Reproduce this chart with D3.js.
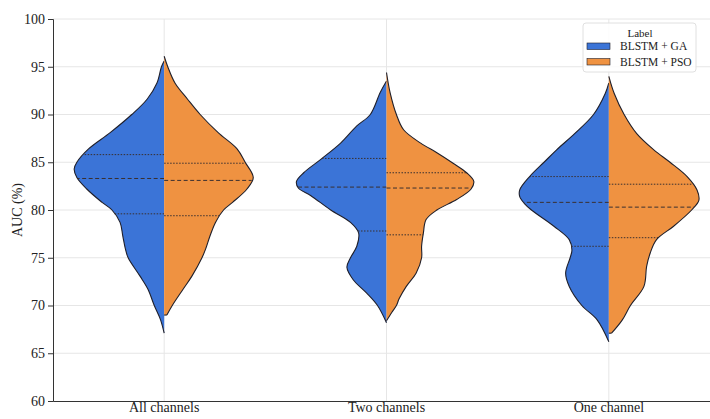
<!DOCTYPE html>
<html>
<head>
<meta charset="utf-8">
<script src="https://cdn.jsdelivr.net/npm/d3@7"></script>
<style>
  html, body { margin: 0; padding: 0; background: #fff; }
  svg { display: block; }
  text { font-family: "Liberation Serif", "Times New Roman", serif; fill: #222; }
</style>
</head>
<body>
<svg id="chart" width="710" height="419"></svg>
<script>
// Categories and series
const categories = ["All channels", "Two channels", "One channel"];
const seriesNames = ["BLSTM + GA", "BLSTM + PSO"];
const yTicks = [60, 65, 70, 75, 80, 85, 90, 95, 100];

// Kernel density profiles (AUC %, relative density) for each group
const gaAll = [[95.6,0],[95,.03],[93.3,.08],[91.6,.19],[90,.36],[88.1,.60],[86.4,.84],[85,.97],[84.3,1.0],[83.4,.97],[82.2,.86],[80.8,.69],[80,.58],[78.7,.49],[77.3,.46],[75.9,.43],[75,.40],[73.1,.27],[71.7,.18],[70,.11],[68.5,.04],[67.1,0]];
const psoAll = [[96.1,0],[95,.04],[93.3,.12],[91.6,.26],[90,.40],[88.1,.60],[86.4,.81],[85,.90],[83.4,.99],[82.2,.92],[80.8,.76],[80,.66],[78.7,.57],[77.3,.51],[75.9,.46],[75,.42],[73.1,.31],[71.7,.21],[70,.09],[69.0,.03]];
const gaTwo = [[93.5,0],[92.3,.07],[90,.18],[88.8,.33],[87,.51],[85.3,.73],[83.9,.92],[83,1.0],[82.3,.98],[81.5,.84],[80,.62],[78.7,.40],[77.6,.31],[76.2,.33],[75,.40],[74,.44],[72.7,.37],[71.3,.22],[70,.10],[68.2,0]];
const psoTwo = [[94.4,0],[92.3,.04],[90,.11],[88.4,.19],[87,.38],[86,.56],[84.9,.74],[83.9,.89],[83,.97],[82.2,.94],[81.1,.78],[80,.56],[79,.44],[77.6,.41],[76.2,.39],[75,.39],[73.4,.33],[72,.22],[70.7,.14],[70,.11],[69.3,.06],[68.4,0]];
const gaOne = [[93.3,0],[92.2,.04],[90,.17],[88,.38],[86.3,.58],[85,.72],[83.5,.88],[82.1,.99],[81.4,.99],[80.7,.94],[80,.86],[78.3,.61],[76.9,.44],[75.8,.41],[75,.43],[73.4,.48],[72,.44],[70,.30],[68.5,.13],[66.2,0]];
const psoOne = [[94.0,0],[92.2,.06],[90,.17],[88,.31],[86.3,.50],[85,.68],[83.5,.87],[82.1,.98],[81,1.0],[80,.92],[78.3,.72],[76.9,.53],[75.5,.46],[74.1,.42],[72,.39],[70,.24],[68.5,.15],[67.1,.03]];

// Quartiles [Q1, median, Q3] per group
const gaQuartiles  = [[79.6, 83.3, 85.8], [77.8, 82.4, 85.4], [76.2, 80.8, 83.5]];
const psoQuartiles = [[79.4, 83.1, 84.9], [77.4, 82.3, 83.9], [77.1, 80.3, 82.7]];

const gaDensity = [gaAll, gaTwo, gaOne];
const psoDensity = [psoAll, psoTwo, psoOne];

const colors = ["#3b74d7", "#ef9241"];
const edgeColor = "#1f1f2a";

const svg = d3.select("#chart");
const margin = { left: 53, top: 19, bottom: 401 };

const y = d3.scaleLinear().domain([60, 100]).range([margin.bottom, margin.top]);
const x = d3.scaleBand().domain(categories).range([margin.left, 720]).padding(0);
const w = d3.scaleLinear().domain([0, 1]).range([0, 90]);

// Grid
const grid = svg.append("g");
grid.selectAll("line.h").data(yTicks.slice(1)).join("line")
  .attr("x1", margin.left).attr("x2", 710)
  .attr("y1", d => y(d)).attr("y2", d => y(d))
  .attr("stroke", "#e6e6e6").attr("stroke-width", 1);
grid.selectAll("line.v").data(categories).join("line")
  .attr("x1", d => x(d) + x.bandwidth() / 2).attr("x2", d => x(d) + x.bandwidth() / 2)
  .attr("y1", margin.top).attr("y2", margin.bottom)
  .attr("stroke", "#e6e6e6").attr("stroke-width", 1);

// Density at a given AUC (linear interpolation within the profile)
function densityAt(profile, v) {
  for (let i = 0; i < profile.length - 1; i++) {
    const a = profile[i], b = profile[i + 1];
    if ((v <= a[0] && v >= b[0])) {
      const t = (a[0] - v) / (a[0] - b[0]);
      return a[1] + t * (b[1] - a[1]);
    }
  }
  return 0;
}

const curve = d3.curveCatmullRom.alpha(0.5);

function drawHalf(g, profile, quart, cx, side, color) {
  const pts = profile.map(d => ({ v: d[0], d: d[1] }));
  const area = d3.area()
    .y(d => y(d.v))
    .x0(cx)
    .x1(d => cx + side * w(d.d))
    .curve(curve);
  g.append("path").datum(pts).attr("d", area).attr("fill", color).attr("stroke", "none");

  // outer edge
  const edge = d3.line().y(d => y(d.v)).x(d => cx + side * w(d.d)).curve(curve);
  g.append("path").datum(pts).attr("d", edge)
    .attr("fill", "none").attr("stroke", edgeColor).attr("stroke-width", 1.1);
  const last = pts[pts.length - 1];
  if (last.d > 0) {
    g.append("line")
      .attr("x1", cx).attr("x2", cx + side * w(last.d))
      .attr("y1", y(last.v)).attr("y2", y(last.v))
      .attr("stroke", edgeColor).attr("stroke-width", 1.1);
  }

  // quartile lines
  quart.forEach((q, i) => {
    const hw = w(densityAt(profile, q));
    g.append("line")
      .attr("x1", cx).attr("x2", cx + side * hw)
      .attr("y1", y(q)).attr("y2", y(q))
      .attr("stroke", "#3a3030")
      .attr("stroke-width", 1)
      .attr("stroke-dasharray", i === 1 ? "4,2.5" : "1.5,1.5");
  });
}

const violins = svg.append("g");
categories.forEach((c, i) => {
  const cx = x(c) + x.bandwidth() / 2;
  drawHalf(violins, gaDensity[i], gaQuartiles[i], cx, -1, colors[0]);
  drawHalf(violins, psoDensity[i], psoQuartiles[i], cx, 1, colors[1]);
});

// Axes
const yAxis = svg.append("g").attr("transform", `translate(${margin.left},0)`)
  .call(d3.axisLeft(y).tickValues(yTicks).tickSize(5).tickPadding(3));
yAxis.select(".domain").attr("stroke", "#333");
yAxis.selectAll(".tick line").attr("stroke", "#333");
yAxis.selectAll("text").attr("font-size", 14).attr("fill", "#222")
  .style("font-family", '"Liberation Serif", serif');

const xAxis = svg.append("g").attr("transform", `translate(0,${margin.bottom})`)
  .call(d3.axisBottom(x).tickSize(0).tickPadding(2));
xAxis.select(".domain").attr("stroke", "#333");
xAxis.selectAll("text").attr("font-size", 14).attr("fill", "#222")
  .attr("dy", "0.62em")
  .style("font-family", '"Liberation Serif", serif');

svg.append("text")
  .attr("transform", `translate(19,${(margin.top + margin.bottom) / 2}) rotate(-90)`)
  .attr("text-anchor", "middle").attr("dominant-baseline", "middle")
  .attr("font-size", 14).text("AUC (%)");

// Legend
const lg = svg.append("g").attr("transform", "translate(583,23)");
lg.append("rect").attr("width", 113).attr("height", 49).attr("rx", 3)
  .attr("fill", "#fff").attr("fill-opacity", 0.85).attr("stroke", "#e0e0e0");
lg.append("text").attr("x", 57).attr("y", 14).attr("text-anchor", "middle")
  .attr("font-size", 11).text("Label");
seriesNames.forEach((s, i) => {
  const row = lg.append("g").attr("transform", `translate(4,${20 + i * 15.5})`);
  row.append("rect").attr("width", 23).attr("height", 6.5)
    .attr("fill", colors[i]).attr("stroke", edgeColor).attr("stroke-width", 0.6);
  row.append("text").attr("x", 33).attr("y", 7).attr("font-size", 11.5).text(s);
});
</script>
</body>
</html>
